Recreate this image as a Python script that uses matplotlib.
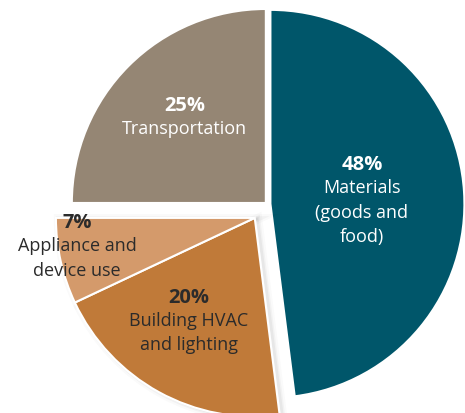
import numpy as np
import matplotlib.pyplot as plt
from matplotlib.patches import Wedge

# slices clockwise from 12 o'clock
categories = ['Materials (goods and food)', 'Building HVAC and lighting',
              'Appliance and device use', 'Transportation']
shares = [48, 20, 7, 25]
pct_labels = ['48%', '20%', '7%', '25%']
name_lines = [['Materials', '(goods and', 'food)'],
              ['Building HVAC', 'and lighting'],
              ['Appliance and', 'device use'],
              ['Transportation']]

colors = ['#00566a', '#c07a39', '#d49a6b', '#958674']
text_colors = ['white', '#2b2b2b', '#2b2b2b', 'white']
# where each percentage label sits (baseline), in radius units
label_pos = [(0.49, 0.175), (-0.402, -0.509), (-0.979, -0.124), (-0.425, 0.479)]
line_step = 0.125

plt.rcParams['font.family'] = ['Open Sans', 'DejaVu Sans']

fig = plt.figure(figsize=(4.65, 4.13), dpi=100)
ax = fig.add_axes([0, 0, 1, 1])

wedges, _ = ax.pie(shares, colors=colors, startangle=90, counterclock=False,
                   explode=[0.018, 0, 0, 0.008], radius=1,
                   wedgeprops=dict(edgecolor='white', linewidth=1.5))

# the two lower slices are pulled out together (and drawn a bit larger)
lower = [1, 2]
t_lo = min(wedges[i].theta1 for i in lower)
t_hi = max(wedges[i].theta2 for i in lower)
mid = np.deg2rad((t_lo + t_hi) / 2)
dx, dy = 0.095 * np.cos(mid), 0.095 * np.sin(mid)
for i in lower:
    w = wedges[i]
    cx, cy = w.center
    w.set_center((cx + dx, cy + dy))
    w.set_radius(w.r * 1.025)
    w.set_zorder(2)
    # soft shadow under the pulled-out slices
    for lw, a in [(7, 0.02), (4, 0.03), (2, 0.045)]:
        sh = Wedge((cx + dx + 0.014, cy + dy - 0.005), w.r, w.theta1, w.theta2,
                   facecolor='none', edgecolor='black', linewidth=lw,
                   alpha=a, zorder=1)
        ax.add_patch(sh)

for i in range(len(shares)):
    x, y = label_pos[i]
    ax.text(x, y, pct_labels[i], ha='center', va='baseline', fontsize=14.5,
            fontweight='bold', color=text_colors[i], zorder=5)
    for k, line in enumerate(name_lines[i]):
        ax.text(x, y - line_step * (k + 1) + 0.005, line, ha='center',
                va='baseline', fontsize=13, color=text_colors[i], zorder=5)

ax.set_xlim(-1.376, 1.021)
ax.set_ylim(-1.077, 1.052)
ax.set_aspect('equal')
ax.axis('off')

fig.savefig('out.png', dpi=100)
